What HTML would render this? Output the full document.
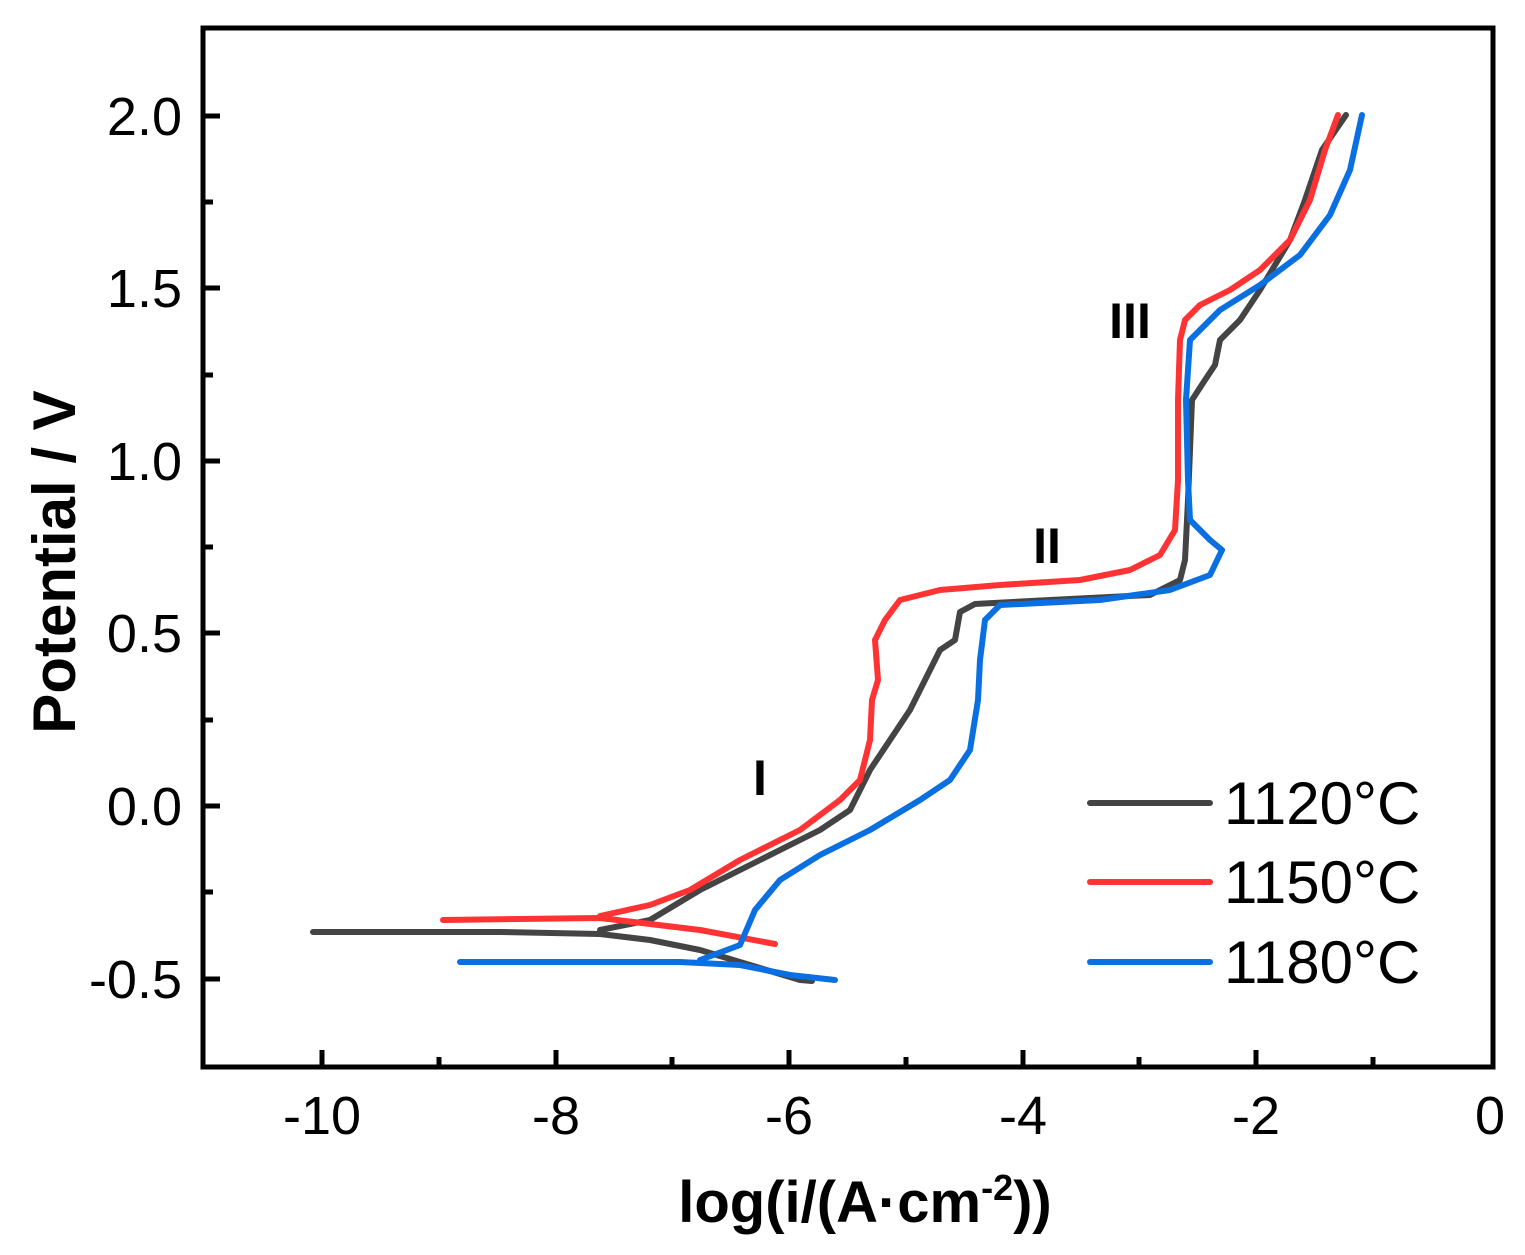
<!DOCTYPE html>
<html><head><meta charset="utf-8"><style>
body{margin:0;background:#fff;}
svg text{font-family:"Liberation Sans",Arial,sans-serif;}
</style></head><body>
<svg width="1525" height="1250" viewBox="0 0 1525 1250" xmlns="http://www.w3.org/2000/svg">
<rect x="0" y="0" width="1525" height="1250" fill="#fff"/>
<g stroke="#000" stroke-width="5">
<rect x="203" y="28" width="1290" height="1039" fill="none"/>
<line x1="322" y1="1067" x2="322" y2="1050"/>
<line x1="556" y1="1067" x2="556" y2="1050"/>
<line x1="789" y1="1067" x2="789" y2="1050"/>
<line x1="1023" y1="1067" x2="1023" y2="1050"/>
<line x1="1256" y1="1067" x2="1256" y2="1050"/>
<line x1="439" y1="1067" x2="439" y2="1057"/>
<line x1="672" y1="1067" x2="672" y2="1057"/>
<line x1="906" y1="1067" x2="906" y2="1057"/>
<line x1="1139" y1="1067" x2="1139" y2="1057"/>
<line x1="1373" y1="1067" x2="1373" y2="1057"/>
<line x1="203" y1="116" x2="220" y2="116"/>
<line x1="203" y1="288" x2="220" y2="288"/>
<line x1="203" y1="461" x2="220" y2="461"/>
<line x1="203" y1="633" x2="220" y2="633"/>
<line x1="203" y1="806" x2="220" y2="806"/>
<line x1="203" y1="979" x2="220" y2="979"/>
<line x1="203" y1="202" x2="213" y2="202"/>
<line x1="203" y1="375" x2="213" y2="375"/>
<line x1="203" y1="547" x2="213" y2="547"/>
<line x1="203" y1="720" x2="213" y2="720"/>
<line x1="203" y1="892" x2="213" y2="892"/>
</g>
<g font-size="54" text-anchor="middle" fill="#000">
<text x="322" y="1134">-10</text>
<text x="556" y="1134">-8</text>
<text x="789" y="1134">-6</text>
<text x="1023" y="1134">-4</text>
<text x="1256" y="1134">-2</text>
<text x="1490" y="1134">0</text>
</g>
<g font-size="54" text-anchor="end" fill="#000">
<text x="182" y="135">2.0</text>
<text x="182" y="307">1.5</text>
<text x="182" y="480">1.0</text>
<text x="182" y="652">0.5</text>
<text x="182" y="825">0.0</text>
<text x="182" y="998">-0.5</text>
</g>
<text x="865" y="1222" font-size="58" font-weight="bold" text-anchor="middle">log(i/(A·cm<tspan font-size="36" dy="-22">-2</tspan><tspan dy="22">))</tspan></text>
<text transform="translate(75,562) rotate(-90)" font-size="60" font-weight="bold" text-anchor="middle">Potential / V</text>
<g font-size="50" font-weight="bold" text-anchor="middle">
<text x="760" y="795">I</text>
<text x="1047" y="563">II</text>
<text x="1130" y="338">III</text>
</g>
<g fill="none" stroke-width="6" stroke-linecap="round" stroke-linejoin="round">
<path stroke="#444" d="M313,932 L500,932 L600,934 L650,940 L700,950 L760,968 L800,980 L812,981"/>
<path stroke="#444" d="M600,930 L650,920 L700,890 L760,860 L820,830 L850,810 L860,790 L870,770 L890,740 L910,710 L925,680 L940,650 L955,640 L960,612 L975,604 L1050,600 L1150,595 L1180,580 L1185,560 L1188,500 L1190,450 L1192,400 L1205,380 L1215,365 L1220,340 L1240,320 L1260,290 L1290,240 L1305,200 L1322,150 L1346,115"/>
<path stroke="#f33" d="M443,920 L600,918 L700,930 L775,944"/>
<path stroke="#f33" d="M600,916 L650,905 L690,890 L740,860 L800,830 L840,800 L860,780 L870,740 L872,700 L878,680 L875,640 L885,620 L900,600 L940,590 L1000,585 L1080,580 L1130,570 L1160,555 L1175,530 L1178,480 L1178,400 L1180,340 L1185,320 L1200,305 L1230,290 L1260,270 L1290,240 L1310,200 L1325,150 L1338,115"/>
<path stroke="#0a6fe0" d="M460,962 L680,962 L740,965 L790,975 L835,980"/>
<path stroke="#0a6fe0" d="M700,960 L740,945 L755,910 L780,880 L820,855 L870,830 L920,800 L950,780 L970,750 L978,700 L980,660 L985,620 L1000,605 L1100,600 L1170,590 L1210,575 L1222,550 L1210,540 L1190,520 L1188,480 L1186,400 L1190,340 L1220,310 L1260,285 L1300,255 L1330,215 L1350,170 L1362,115"/>
<line stroke="#444" x1="1090" y1="803" x2="1210" y2="803"/>
<line stroke="#f33" x1="1090" y1="882" x2="1210" y2="882"/>
<line stroke="#0a6fe0" x1="1090" y1="962" x2="1210" y2="962"/>
</g>
<g font-size="60" fill="#000">
<text x="1224" y="824">1120°C</text>
<text x="1224" y="903">1150°C</text>
<text x="1224" y="983">1180°C</text>
</g>
</svg>
</body></html>
